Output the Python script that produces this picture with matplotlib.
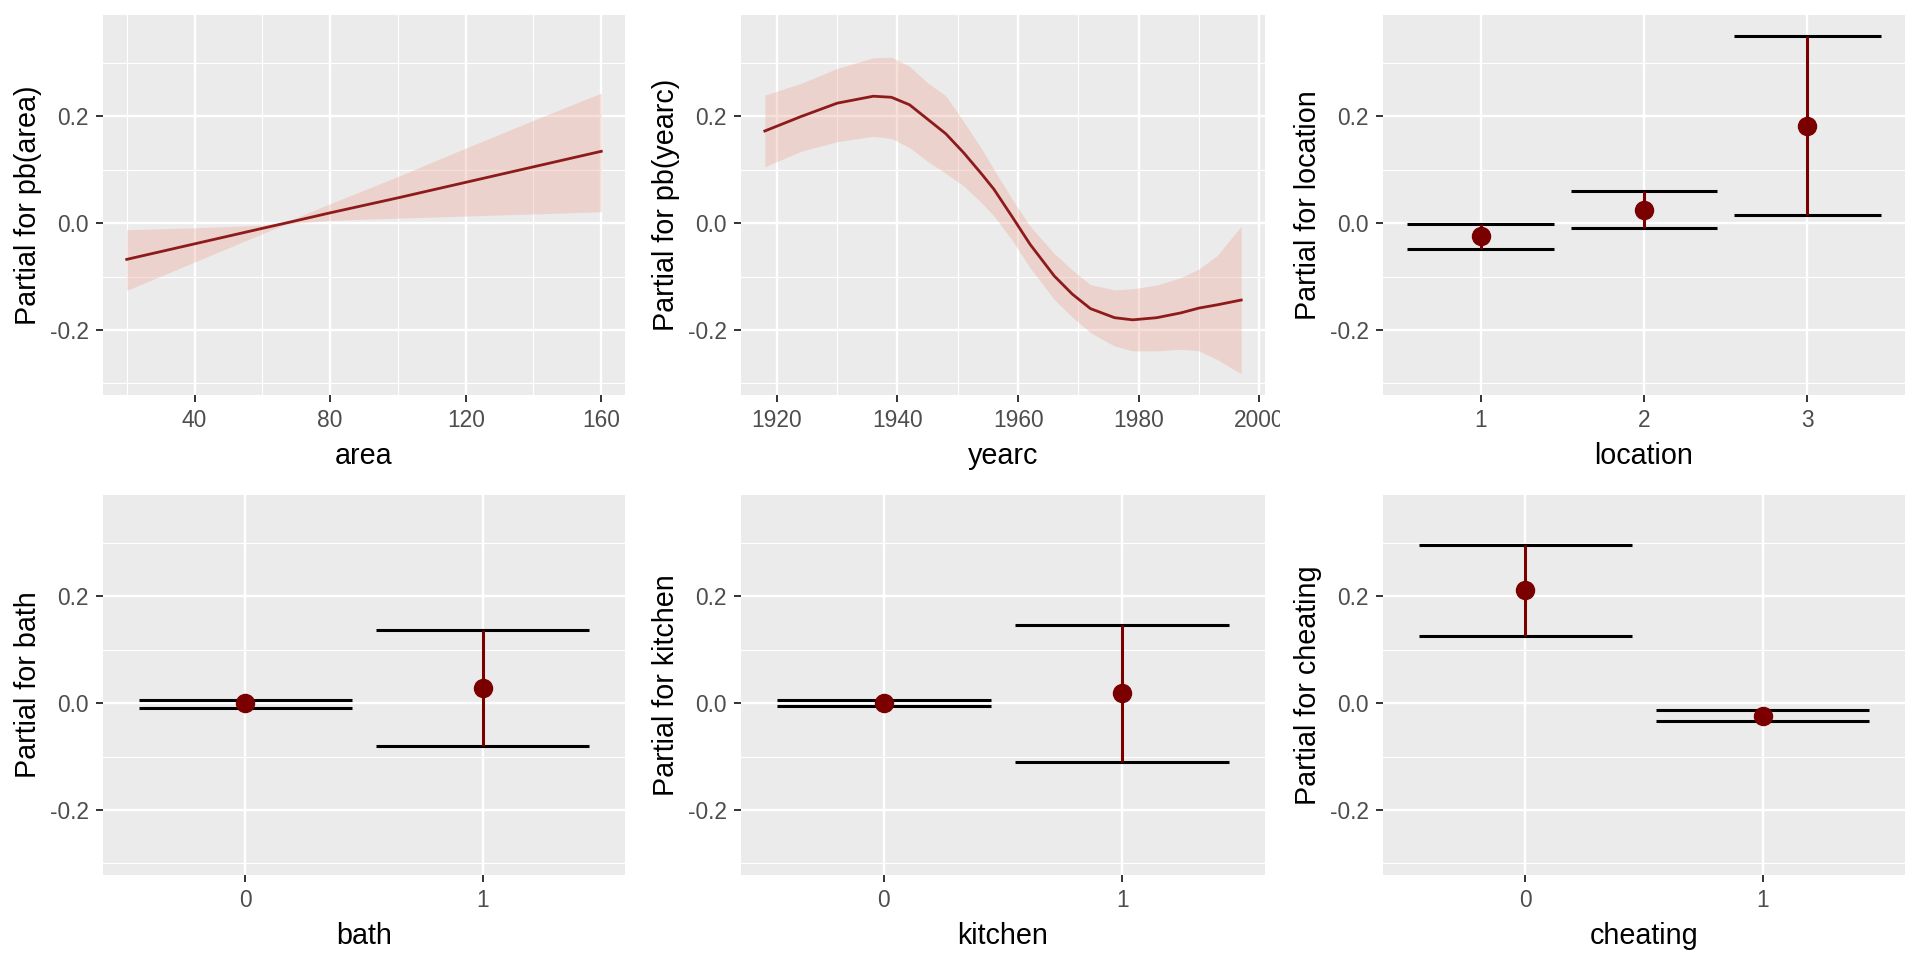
import matplotlib
matplotlib.use('Agg')
import matplotlib.pyplot as plt
from matplotlib.transforms import Bbox

plt.rcParams['font.family'] = ['Liberation Sans', 'DejaVu Sans']

# ---------------- data ----------------
area_x = [20, 40, 60, 67, 80, 100, 120, 140, 160]
area_fit = [-0.068, -0.039, -0.010, 0.000, 0.019, 0.047, 0.076, 0.105, 0.134]
area_upper = [-0.0125, -0.009, -0.004, 0.002, 0.036, 0.087, 0.140, 0.192, 0.243]
area_lower = [-0.126, -0.073, -0.020, -0.002, 0.005, 0.009, 0.013, 0.017, 0.021]

yearc_x = [1918, 1924, 1930, 1936, 1939, 1942, 1945, 1948, 1951, 1954, 1956, 1959,
           1962, 1966, 1969, 1972, 1976, 1979, 1983, 1987, 1990, 1993, 1997]
yearc_fit = [0.172, 0.199, 0.224, 0.237, 0.235, 0.221, 0.194, 0.167, 0.131, 0.091, 0.063, 0.012,
             -0.040, -0.099, -0.133, -0.160, -0.177, -0.181, -0.177, -0.168, -0.159, -0.153, -0.144]
yearc_upper = [0.239, 0.261, 0.289, 0.309, 0.310, 0.293, 0.262, 0.238, 0.189, 0.138, 0.100, 0.045,
               -0.006, -0.057, -0.088, -0.115, -0.125, -0.123, -0.116, -0.102, -0.086, -0.061, -0.006]
yearc_lower = [0.105, 0.134, 0.152, 0.162, 0.158, 0.141, 0.115, 0.093, 0.069, 0.037, 0.013, -0.032,
               -0.084, -0.143, -0.176, -0.205, -0.230, -0.239, -0.239, -0.236, -0.239, -0.255, -0.282]

location_levels = ['1', '2', '3']
location_est = [-0.025, 0.025, 0.181]
location_lower = [-0.048, -0.009, 0.015]
location_upper = [-0.002, 0.059, 0.349]

bath_levels = ['0', '1']
bath_est = [0.000, 0.028]
bath_lower = [-0.009, -0.080]
bath_upper = [0.006, 0.136]

kitchen_levels = ['0', '1']
kitchen_est = [0.000, 0.018]
kitchen_lower = [-0.006, -0.111]
kitchen_upper = [0.006, 0.146]

cheating_levels = ['0', '1']
cheating_est = [0.211, -0.025]
cheating_lower = [0.126, -0.033]
cheating_upper = [0.295, -0.0125]

y_ticks = [-0.2, 0.0, 0.2]
y_tick_labels = ['-0.2', '0.0', '0.2']
y_minor = [-0.3, -0.1, 0.1, 0.3]

# ---------------- style ----------------
W, H = 1920, 960
YLIM = (-0.3215, 0.3888)
PANEL_BG = '#EBEBEB'
LINE_COL = '#8E1B1B'
POINT_COL = '#7A0000'
RIBBON_COL = '#ECA290'
TICK_FS = 16.4
TITLE_FS = 20.7

fig = plt.figure(figsize=(W / 100, H / 100), dpi=100)

cols = [(103, 625), (741, 1265), (1383, 1905)]
rows = [(15, 395), (495, 875)]


def make_ax(r, c):
    x0, x1 = cols[c]
    y0, y1 = rows[r]
    ax = fig.add_axes([x0 / W, 1 - y1 / H, (x1 - x0) / W, (y1 - y0) / H])
    ax.set_facecolor(PANEL_BG)
    for s in ax.spines.values():
        s.set_visible(False)
    ax.set_axisbelow(True)
    ax.grid(which='major', color='white', lw=1.7)
    ax.grid(which='minor', color='white', lw=0.85)
    ax.tick_params(which='major', length=5, width=1.4, color='#333333',
                   labelsize=TICK_FS, labelcolor='#4D4D4D', pad=5)
    ax.tick_params(which='minor', length=0)
    ax.set_ylim(*YLIM)
    ax.set_yticks(y_ticks)
    ax.set_yticklabels(y_tick_labels)
    ax.set_yticks(y_minor, minor=True)
    width_px = x1 - x0
    height_px = y1 - y0
    ax.yaxis.set_label_coords(-60.5 / width_px, 0.5)
    ax.xaxis.set_label_coords(0.5, -46.7 / height_px)
    return ax


def smooth_panel(ax, x, fit, lo, hi, xlabel, ylabel, xlim, majors, minors):
    ax.fill_between(x, lo, hi, color=RIBBON_COL, alpha=0.33, lw=0)
    ax.plot(x, fit, color=LINE_COL, lw=2.0, solid_joinstyle='round')
    ax.set_xlim(*xlim)
    ax.set_xticks(majors)
    ax.set_xticklabels([str(m) for m in majors])
    ax.set_xticks(minors, minor=True)
    ax.set_xlabel(xlabel, fontsize=TITLE_FS, color='black')
    ax.set_ylabel(ylabel, fontsize=TITLE_FS, color='black')


def factor_panel(ax, levels, est, lo, hi, xlabel, ylabel):
    pos = list(range(len(levels)))
    half = 0.45
    ax.hlines(hi, [p - half for p in pos], [p + half for p in pos], color='black', lw=2.2, zorder=2)
    ax.hlines(lo, [p - half for p in pos], [p + half for p in pos], color='black', lw=2.2, zorder=2)
    ax.vlines(pos, lo, hi, color=POINT_COL, lw=2.2, zorder=3)
    ax.plot(pos, est, 'o', color=POINT_COL, ms=13, zorder=4)
    ax.set_xlim(-0.6, len(levels) - 1 + 0.6)
    ax.set_xticks(pos)
    ax.set_xticklabels(levels)
    ax.set_xticks([], minor=True)
    ax.set_xlabel(xlabel, fontsize=TITLE_FS, color='black')
    ax.set_ylabel(ylabel, fontsize=TITLE_FS, color='black')


ax1 = make_ax(0, 0)
smooth_panel(ax1, area_x, area_fit, area_lower, area_upper, 'area', 'Partial for pb(area)',
             (13, 167), [40, 80, 120, 160], [20, 60, 100, 140])

ax2 = make_ax(0, 1)
smooth_panel(ax2, yearc_x, yearc_fit, yearc_lower, yearc_upper, 'yearc', 'Partial for pb(yearc)',
             (1914.05, 2000.95), [1920, 1940, 1960, 1980, 2000], [1930, 1950, 1970, 1990])
# The last tick label is cut off by the neighbouring plot's area
clip = Bbox([[0, 0], [1280, H]])
for t in ax2.xaxis.get_major_ticks():
    t.label1.set_clip_box(clip)
    t.label1.set_clip_on(True)

ax3 = make_ax(0, 2)
factor_panel(ax3, location_levels, location_est, location_lower, location_upper,
             'location', 'Partial for location')

ax4 = make_ax(1, 0)
factor_panel(ax4, bath_levels, bath_est, bath_lower, bath_upper, 'bath', 'Partial for bath')

ax5 = make_ax(1, 1)
factor_panel(ax5, kitchen_levels, kitchen_est, kitchen_lower, kitchen_upper,
             'kitchen', 'Partial for kitchen')

ax6 = make_ax(1, 2)
factor_panel(ax6, cheating_levels, cheating_est, cheating_lower, cheating_upper,
             'cheating', 'Partial for cheating')

fig.savefig('out.png', dpi=100, facecolor='white')
